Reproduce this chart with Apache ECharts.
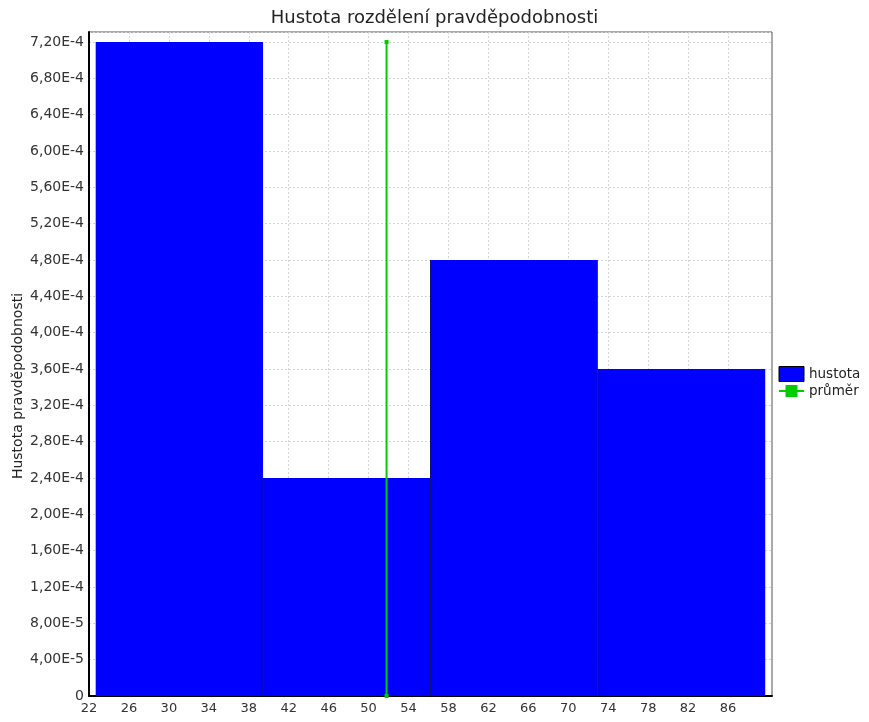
<!DOCTYPE html>
<html>
<head>
<meta charset="utf-8">
<script src="https://cdn.jsdelivr.net/npm/echarts@6/dist/echarts.min.js"></script>
<style>
html,body{margin:0;padding:0;background:#fff;}
#chart{width:869px;height:722px;}
</style>
</head>
<body>
<div id="chart"></div>
<script>
// ---- data ----
const binEdges = [22.67, 39.43, 56.2, 72.96, 89.72];
const density = [7.2e-4, 2.4e-4, 4.8e-4, 3.6e-4];
const meanValue = 51.8;
const meanTop = 7.2e-4;
const xTicks = [22, 26, 30, 34, 38, 42, 46, 50, 54, 58, 62, 66, 70, 74, 78, 82, 86];
const titleText = 'Hustota rozdělení pravděpodobnosti';
const yAxisName = 'Hustota pravděpodobnosti';
const seriesNames = ['hustota', 'průměr'];

const bars = density.map((d, i) => [binEdges[i], binEdges[i + 1], d, i]);

function fmtY(v) {
  if (v === 0) return '0';
  return v.toExponential(2).replace('.', ',').replace('e', 'E').replace('+', '');
}

const FONT = 'DejaVu Sans';
const chart = echarts.init(document.getElementById('chart'));
chart.setOption({
  backgroundColor: '#fff',
  animation: false,
  title: {
    text: titleText,
    left: 'center',
    top: 4,
    textStyle: { fontFamily: FONT, fontSize: 18, fontWeight: 'normal', color: '#222' }
  },
  legend: {
    orient: 'vertical',
    left: 773,
    top: 361,
    itemWidth: 25,
    itemHeight: 15,
    itemGap: 2,
    textStyle: { fontFamily: FONT, fontSize: 13.5, color: '#222' },
    data: [
      { name: seriesNames[0], icon: 'rect', itemStyle: { color: '#0000ff', borderColor: '#000', borderWidth: 1 } },
      { name: seriesNames[1] }
    ]
  },
  grid: { left: 89, right: 97, top: 32, bottom: 26, containLabel: false, outerBoundsMode: 'none',
          show: true, borderColor: '#555', borderWidth: 1, backgroundColor: '#fff' },
  xAxis: {
    type: 'value',
    min: 22,
    max: 90.4,
    axisLine: { show: true, onZero: false, lineStyle: { color: '#000', width: 2 } },
    axisTick: { show: false, customValues: xTicks },
    axisLabel: { customValues: xTicks, fontFamily: FONT, fontSize: 13, color: '#333', margin: 6 },
    splitLine: { show: true, lineStyle: { color: '#d4d4d4', type: [2, 2], width: 1 } }
  },
  yAxis: {
    type: 'value',
    min: 0,
    max: 7.31e-4,
    interval: 4e-5,
    name: yAxisName,
    nameLocation: 'middle',
    nameGap: 64,
    nameMoveOverlap: false,
    nameTextStyle: { fontFamily: FONT, fontSize: 14, color: '#222', padding: [0, 44, 0, 0] },
    axisLine: { show: true, lineStyle: { color: '#000', width: 2 } },
    axisTick: { show: false },
    axisLabel: { showMaxLabel: false, formatter: fmtY, fontFamily: FONT, fontSize: 14, color: '#333', margin: 5 },
    splitLine: { show: true, lineStyle: { color: '#d4d4d4', type: [2, 2], width: 1 } }
  },
  series: [
    {
      name: seriesNames[0],
      type: 'custom',
      itemStyle: { color: '#0000ff' },
      encode: { x: [0, 1], y: 2 },
      renderItem: function (params, api) {
        const p0 = api.coord([api.value(0), api.value(2)]);
        const p1 = api.coord([api.value(1), 0]);
        const idx = api.value(3);
        const children = [{
          type: 'rect',
          shape: { x: p0[0], y: p0[1], width: p1[0] - p0[0], height: p1[1] - p0[1] },
          style: { fill: '#0000ff' }
        }];
        if (idx > 0) {
          children.push({
            type: 'line',
            shape: { x1: p0[0], y1: p0[1], x2: p0[0], y2: p1[1] },
            style: { stroke: '#10107a', lineWidth: 1 }
          });
        }
        return { type: 'group', children: children };
      },
      data: bars,
      z: 2
    },
    {
      name: seriesNames[1],
      type: 'line',
      data: [[meanValue, 0], [meanValue, meanTop]],
      symbol: 'rect',
      symbolSize: 4,
      itemStyle: { color: '#00cc00' },
      lineStyle: { color: '#00cc00', width: 2 },
      z: 5
    }
  ]
});
</script>
</body>
</html>
